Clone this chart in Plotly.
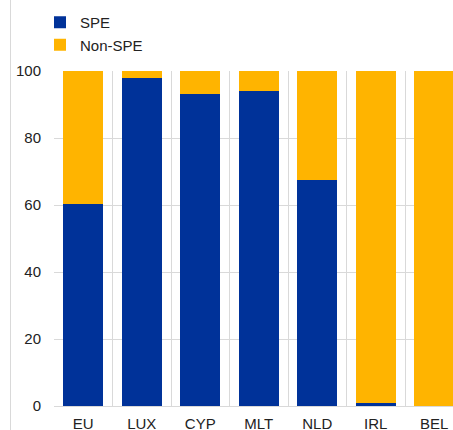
import plotly.graph_objects as go

countries = ["EU", "LUX", "CYP", "MLT", "NLD", "IRL", "BEL"]
spe = [60.3, 97.9, 93.1, 94.0, 67.6, 1.0, 0.0]
non_spe = [round(100 - v, 1) for v in spe]

BLUE = "#003299"
YELLOW = "#FFB400"
GRID = "#d9d9d9"

fig = go.Figure()
fig.add_trace(go.Bar(x=countries, y=spe, name="SPE", marker=dict(color=BLUE, line_width=0)))
fig.add_trace(go.Bar(x=countries, y=non_spe, name="Non-SPE", marker=dict(color=YELLOW, line_width=0)))

W, H = 453, 430
ml, mr, mt, mb = 54, 0, 71, 24
ph = H - mt - mb
pw = W - ml - mr

fig.update_layout(
    width=W, height=H,
    barmode="stack",
    bargap=0.32,
    plot_bgcolor="white",
    paper_bgcolor="white",
    margin=dict(l=ml, r=mr, t=mt, b=mb, autoexpand=False),
    font=dict(family="Liberation Sans, Arial, sans-serif", size=15, color="#222222"),
    legend=dict(
        x=(40 - ml) / pw, y=1 + (mt - 6) / ph, yanchor="top", xanchor="left",
        orientation="v",
        traceorder="normal",
        font=dict(size=15),
        bgcolor="rgba(0,0,0,0)",
        tracegroupgap=0,
    ),
    xaxis=dict(
        range=[-0.5, 6.32],
        tickson="boundaries",
        showgrid=True, gridcolor=GRID, gridwidth=1,
        ticks="", showline=False,
        ticklabelstandoff=7,
        automargin=False,
        tickfont=dict(size=15),
    ),
    yaxis=dict(
        range=[0, 100],
        tickvals=[0, 20, 40, 60, 80, 100],
        showgrid=True, gridcolor=GRID, gridwidth=1,
        zeroline=True, zerolinecolor=GRID, zerolinewidth=1,
        ticks="", showline=False,
        ticklabelstandoff=12,
        automargin=False,
        tickfont=dict(size=15),
    ),
)

# thin vertical rule near the left edge
fig.add_shape(type="line", xref="paper", yref="paper",
              x0=(10.5 - ml) / pw, x1=(10.5 - ml) / pw,
              y0=-mb / ph, y1=1 + mt / ph,
              line=dict(color=GRID, width=1))

fig.write_html("out.html")
